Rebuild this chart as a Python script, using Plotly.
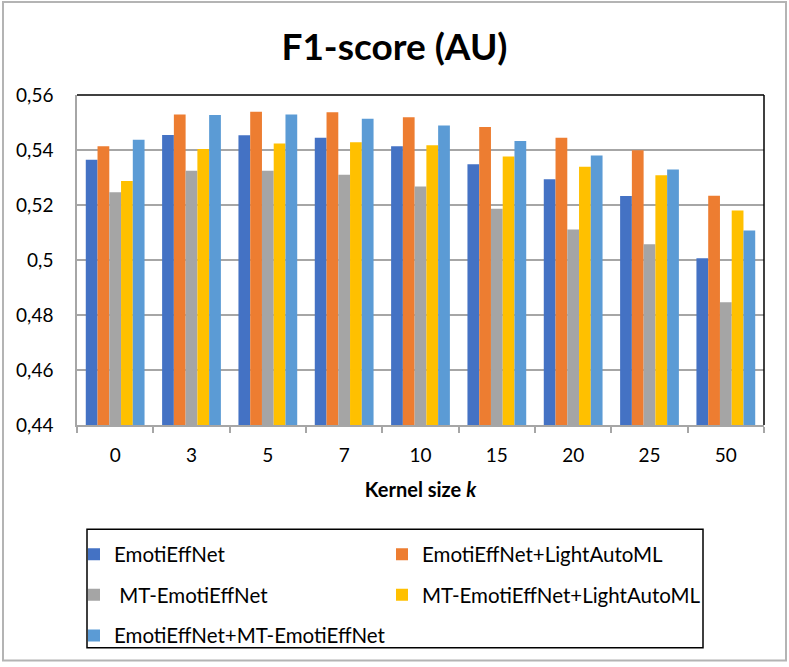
import plotly.graph_objects as go

categories = ["0", "3", "5", "7", "10", "15", "20", "25", "50"]

series_names = [
    "EmotiEffNet",
    "EmotiEffNet+LightAutoML",
    " MT-EmotiEffNet",
    "MT-EmotiEffNet+LightAutoML",
    "EmotiEffNet+MT-EmotiEffNet",
]

emotieffnet = [0.5365, 0.5455, 0.5454, 0.5445, 0.5414, 0.5348, 0.5294, 0.5233, 0.5006]
emotieffnet_lama = [0.5414, 0.5529, 0.5539, 0.5537, 0.5519, 0.5484, 0.5445, 0.5399, 0.5234]
mt_emotieffnet = [0.5246, 0.5325, 0.5325, 0.5310, 0.5267, 0.5186, 0.5111, 0.5057, 0.4846]
mt_emotieffnet_lama = [0.5287, 0.5404, 0.5424, 0.5428, 0.5417, 0.5376, 0.5339, 0.5308, 0.5180]
emotieffnet_mt = [0.5437, 0.5527, 0.5529, 0.5514, 0.5489, 0.5433, 0.5380, 0.5329, 0.5107]

y_tickvals = [0.44, 0.46, 0.48, 0.50, 0.52, 0.54, 0.56]
y_ticktext = ["0,44", "0,46", "0,48", "0,5", "0,52", "0,54", "0,56"]

colors = ["#4472C4", "#ED7D31", "#A5A5A5", "#FFC000", "#5B9BD5"]
legend_ids = ["legend", "legend2", "legend", "legend2", "legend"]
all_values = [emotieffnet, emotieffnet_lama, mt_emotieffnet, mt_emotieffnet_lama, emotieffnet_mt]

FONT = "Lato"
W, H = 789, 667

fig = go.Figure()
for i, (name, vals) in enumerate(zip(series_names, all_values)):
    fig.add_trace(go.Bar(
        x=categories, y=vals, name=name,
        marker=dict(color=colors[i], line=dict(width=0)),
        legend=legend_ids[i], legendgroup=f"g{i}",
    ))

# plot area in pixels: x 77..764, y 95..427
L, R, T, B = 77, 764, 95, 427
def px_x(p):
    return (p - L) / (R - L)
def px_y(p):
    return (B - p) / (B - T)

shapes = [
    dict(type="line", xref="paper", yref="paper", x0=0, x1=1, y0=1, y1=1,
         line=dict(color="black", width=1.5)),
    dict(type="line", xref="paper", yref="paper", x0=1, x1=1, y0=0, y1=1,
         line=dict(color="black", width=1.5)),
    dict(type="rect", xref="paper", yref="paper",
         x0=px_x(87), x1=px_x(703), y0=px_y(651), y1=px_y(532),
         line=dict(color="black", width=1.5), fillcolor="rgba(0,0,0,0)"),
    dict(type="rect", xref="paper", yref="paper",
         x0=px_x(3), x1=px_x(786), y0=px_y(664), y1=px_y(1.5),
         line=dict(color="#B4B4B4", width=2), fillcolor="rgba(0,0,0,0)"),
]

fig.update_layout(
    width=W, height=H,
    margin=dict(l=L, r=W - R, t=T, b=H - B),
    paper_bgcolor="white", plot_bgcolor="white",
    font=dict(family=FONT, size=19, color="black"),
    title=dict(text="<b>F1-score (AU)</b>", x=0.5, xref="container", xanchor="center",
               y=1 - 47 / H, yref="container", yanchor="middle",
               font=dict(family=FONT, size=37, color="black")),
    barmode="group", bargap=0.23, bargroupgap=0,
    showlegend=True,
    legend=dict(orientation="v", x=px_x(74), xanchor="left", y=px_y(537), yanchor="top",
                font=dict(family=FONT, size=20.5, color="black"), tracegroupgap=11,
                bgcolor="rgba(0,0,0,0)", borderwidth=0),
    legend2=dict(orientation="v", x=px_x(382), xanchor="left", y=px_y(537), yanchor="top",
                 font=dict(family=FONT, size=20.5, color="black"), tracegroupgap=11,
                 bgcolor="rgba(0,0,0,0)", borderwidth=0),
    shapes=shapes,
)

fig.update_xaxes(
    type="category", showline=True, linecolor="#A6A6A6", linewidth=1.5,
    ticks="outside", tickson="boundaries", ticklen=6, tickcolor="#A6A6A6", tickwidth=1.5,
    showgrid=False, ticklabelstandoff=12,
    tickfont=dict(family=FONT, size=19, color="black"),
    title=dict(text="<b>Kernel size <i>k</i></b>", standoff=18,
               font=dict(family=FONT, size=20, color="black")),
)
fig.update_yaxes(
    range=[0.44, 0.56], tickvals=y_tickvals, ticktext=y_ticktext,
    showline=True, linecolor="#A6A6A6", linewidth=1.5,
    showgrid=True, gridcolor="#A6A6A6", gridwidth=1.5,
    ticks="", ticklabelstandoff=18, zeroline=False,
    tickfont=dict(family=FONT, size=19, color="black"),
)

post = (
    "document.documentElement.style.margin='0px';"
    "document.documentElement.style.overflow='hidden';"
    "document.body.style.margin='0px';"
    "document.body.style.overflow='hidden';"
    "var gd=document.getElementById('{plot_id}');"
    "gd.parentElement.style.height='667px';"
    "gd.parentElement.style.overflow='hidden';"
)
fig.write_html("out.html", config={"displayModeBar": False}, post_script=post)
